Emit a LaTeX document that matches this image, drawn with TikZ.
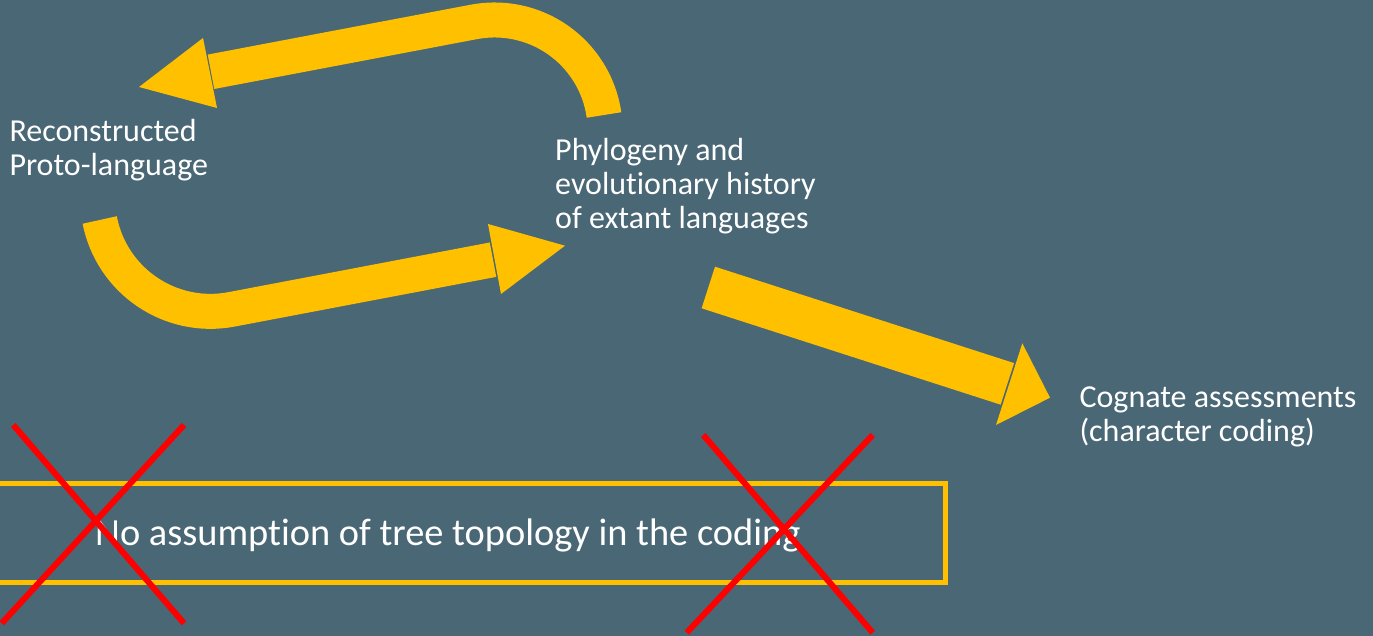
\documentclass[tikz,border=0pt]{standalone}
\usepackage{fontspec}
\setmainfont{Carlito}[Ligatures=NoCommon]
\usetikzlibrary{calc}
\definecolor{slide}{RGB}{73,103,116}
\definecolor{gold}{RGB}{255,192,0}
\definecolor{xred}{RGB}{255,0,0}
\begin{document}
\begin{tikzpicture}[x=1pt,y=1pt,
  band/.style={draw=gold,line width=35pt,line cap=butt},
  head/.style={fill=gold},
  cross/.style={draw=xred,line width=6pt},
  txt/.style={text=white,inner sep=0pt,anchor=base west,align=left,
    font=\fontsize{32}{34}\selectfont},
  boxtxt/.style={text=white,inner sep=0pt,anchor=base west,
    font=\fontsize{38.4}{42}\selectfont}]
\useasboundingbox (0,0) rectangle (1373,636);
\clip (0,0) rectangle (1373,636);
\fill[slide] (0,0) rectangle (1373,636);

% labels (anchored at the baseline of their last line)
\node[txt] (proto) at (9.3,460.3) {Reconstructed\\Proto-language};
\node[txt] (phylo) at (555,407.7) {Phylogeny and\\evolutionary history\\of extant languages};
\node[txt] (cog) at (1079.3,194.3) {Cognate assessments\\(character coding)};

% key points of the arrows
\coordinate (upstart) at (604,521);
\coordinate (upbase) at (210,564);
\coordinate (uptip) at (139,549);
\coordinate (upb1) at (203,598);
\coordinate (upb2) at (217,528);
\coordinate (lostart) at (99.7,416);
\coordinate (lobase) at (494,376.5);
\coordinate (lotip) at (565,390.3);
\coordinate (lob1) at (488,412);
\coordinate (lob2) at (501,342);
\coordinate (cgtail) at (708.3,348.5);
\coordinate (cgbase) at (1008.3,251.8);
\coordinate (cgtip) at (1050,238.3);
\coordinate (cgb1) at (1022.3,292.7);
\coordinate (cgb2) at (996,211);

% phylogeny -> proto-language (curved, upper)
\draw[band] (upstart) arc[start angle=8.1,end angle=100.8,radius=110.6] -- ($(upbase)!-1pt!(uptip)$);
\fill[head] (uptip) -- (upb1) -- (upb2) -- cycle;

% proto-language -> phylogeny (curved, lower)
\draw[band] (lostart) arc[start angle=191,end angle=280.8,radius=112.9] -- ($(lobase)!-1pt!(lotip)$);
\fill[head] (lotip) -- (lob1) -- (lob2) -- cycle;

% phylogeny -> cognate assessments
\draw[band,line width=43.7pt] (cgtail) -- ($(cgbase)!-1pt!(cgtip)$);
\fill[head] (cgtip) -- (cgb1) -- (cgb2) -- cycle;

% framed statement
\draw[gold,line width=5pt] (-10,53) rectangle (945,152.5);
\node[boxtxt] (stmt) at (95,90) {No assumption of tree topology in the coding};

% crossed out
\draw[cross] (13.3,211) -- (184,12.7);
\draw[cross] (184,211) -- (1.7,12.7);
\draw[cross] (703.3,201) -- (872.7,3.3);
\draw[cross] (872.7,201) -- (686.7,3.3);
\end{tikzpicture}
\end{document}
